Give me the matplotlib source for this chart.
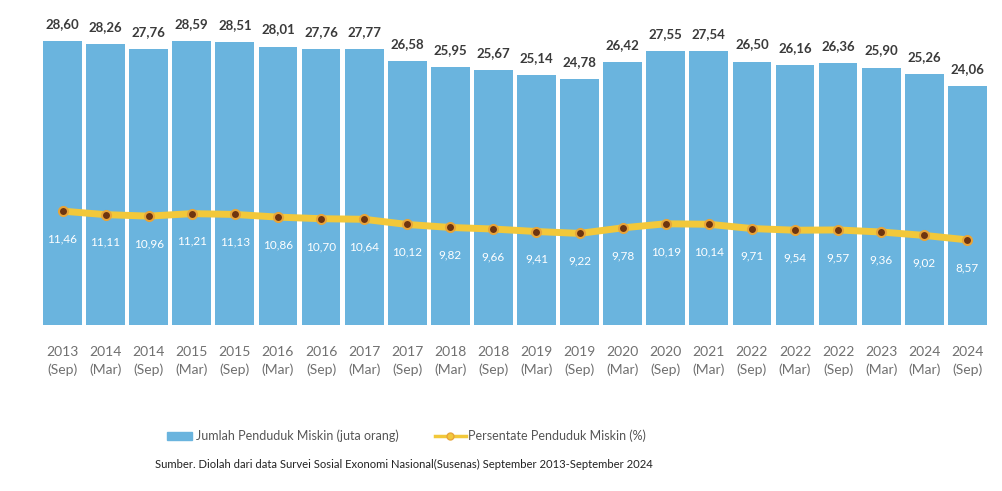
import matplotlib
matplotlib.use("Agg")
import matplotlib.pyplot as plt
from matplotlib.patches import Rectangle
from matplotlib.lines import Line2D

years = ["2013", "2014", "2014", "2015", "2015", "2016", "2016", "2017", "2017", "2018", "2018",
         "2019", "2019", "2020", "2020", "2021", "2022", "2022", "2022", "2023", "2024", "2024"]
periods = ["(Sep)", "(Mar)", "(Sep)", "(Mar)", "(Sep)", "(Mar)", "(Sep)", "(Mar)", "(Sep)", "(Mar)", "(Sep)",
           "(Mar)", "(Sep)", "(Mar)", "(Sep)", "(Mar)", "(Sep)", "(Mar)", "(Sep)", "(Mar)", "(Mar)", "(Sep)"]
jumlah = [28.60, 28.26, 27.76, 28.59, 28.51, 28.01, 27.76, 27.77, 26.58, 25.95, 25.67,
          25.14, 24.78, 26.42, 27.55, 27.54, 26.50, 26.16, 26.36, 25.90, 25.26, 24.06]
persen = [11.46, 11.11, 10.96, 11.21, 11.13, 10.86, 10.70, 10.64, 10.12, 9.82, 9.66,
          9.41, 9.22, 9.78, 10.19, 10.14, 9.71, 9.54, 9.57, 9.36, 9.02, 8.57]

BLUE = "#6AB4DE"
YELLOW = "#F2C83A"
DOT = "#6E3510"
FONT = ["Lato", "DejaVu Sans"]

fig = plt.figure(figsize=(10.02, 4.91), dpi=100)
fig.patch.set_facecolor("white")
ax = fig.add_axes([0.0409, 0.338, 0.946, 0.6477])

x = list(range(len(jumlah)))
bars = ax.bar(x, jumlah, width=0.9, color=BLUE, edgecolor="none", zorder=1)
ax.bar_label(bars, labels=[f"{v:.2f}".replace(".", ",") for v in jumlah], padding=8,
             fontsize=9.5, color="#3a3a3a", family=FONT, fontweight="bold")

ax.plot(x, persen, color=YELLOW, lw=5, zorder=2, solid_capstyle="round")
ax.plot(x, persen, ls="none", marker="o", ms=6.5, mfc=DOT, mec="#E8A53A", mew=1.5, zorder=3)
for xi, p in zip(x, persen):
    ax.annotate(f"{p:.2f}".replace(".", ","), (xi, p), xytext=(0, -20), textcoords="offset points",
                ha="center", va="center", fontsize=8.5, color="white", family=FONT)

ax.set_xlim(-0.5, len(jumlah) - 0.5)
ax.set_ylim(0, 32)
ax.set_yticks([])
ax.set_xticks(x)
ax.set_xticklabels([f"{y}\n{p}" for y, p in zip(years, periods)], fontsize=10, color="#707070",
                   family=FONT, linespacing=1.5)
ax.tick_params(axis="x", length=0, pad=15)
for s in ax.spines.values():
    s.set_visible(False)

# legend
fig.patches.append(Rectangle((167 / 1002, 1 - 440 / 491), 25 / 1002, 8 / 491,
                             transform=fig.transFigure, color=BLUE))
fig.text(196 / 1002, 1 - 436 / 491, "Jumlah Penduduk Miskin (juta orang)", fontsize=9,
         color="#555555", family=FONT, va="center")
fig.lines.append(Line2D([435 / 1002, 466 / 1002], [1 - 436 / 491] * 2, transform=fig.transFigure,
                        color=YELLOW, lw=2.5))
fig.lines.append(Line2D([450 / 1002], [1 - 436 / 491], transform=fig.transFigure, marker="o",
                        ms=5, mfc=YELLOW, mec="#E8A53A"))
fig.text(468 / 1002, 1 - 436 / 491, "Persentate Penduduk Miskin (%)", fontsize=9,
         color="#555555", family=FONT, va="center")
fig.text(155 / 1002, 1 - 464 / 491,
         "Sumber. Diolah dari data Survei Sosial Exonomi Nasional(Susenas) September 2013-September 2024",
         fontsize=8.1, color="#222222", family=FONT, va="center")

fig.savefig("out.png", dpi=100)
